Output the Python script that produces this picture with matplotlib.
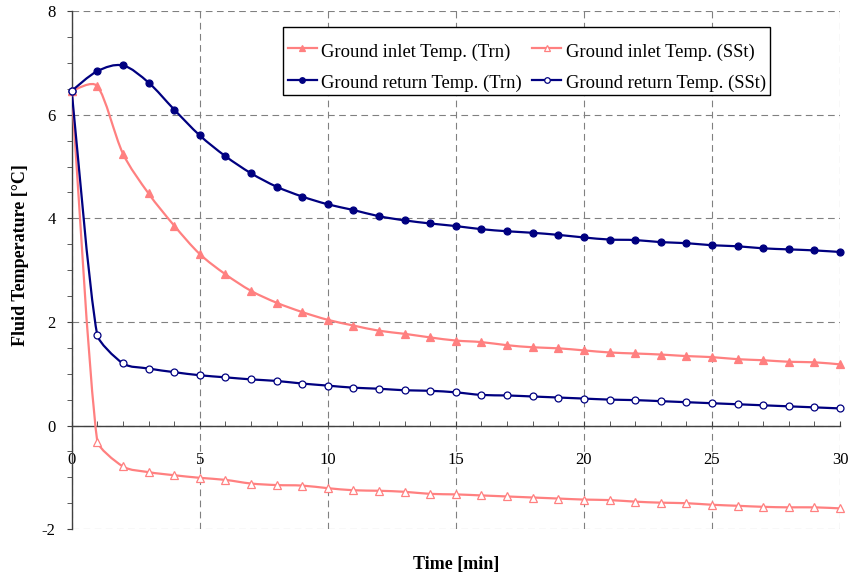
import numpy as np
import matplotlib
matplotlib.use('Agg')
import matplotlib.pyplot as plt
from matplotlib.path import Path
from matplotlib.patches import PathPatch, Rectangle
from matplotlib.lines import Line2D
from matplotlib.ticker import MultipleLocator

plt.rcParams['font.family'] = ['Liberation Serif', 'DejaVu Serif']
plt.rcParams['axes.unicode_minus'] = False

# time in minutes
time_min = list(range(0, 31))

inlet_trn = [6.46, 6.55, 5.25, 4.48, 3.86, 3.31, 2.92, 2.60, 2.37, 2.19, 2.04,
             1.93, 1.83, 1.77, 1.70, 1.64, 1.61, 1.55, 1.51, 1.49, 1.45,
             1.41, 1.39, 1.37, 1.34, 1.32, 1.28, 1.26, 1.23, 1.22, 1.18]
inlet_sst = [6.46, -0.31, -0.79, -0.90, -0.96, -1.01, -1.05, -1.12, -1.15, -1.16, -1.21,
             -1.25, -1.26, -1.28, -1.32, -1.33, -1.35, -1.37, -1.39, -1.41, -1.43,
             -1.44, -1.47, -1.49, -1.50, -1.53, -1.55, -1.57, -1.58, -1.58, -1.60]
return_trn = [6.46, 6.84, 6.95, 6.62, 6.10, 5.60, 5.20, 4.87, 4.61, 4.42, 4.27,
              4.16, 4.04, 3.96, 3.90, 3.85, 3.79, 3.75, 3.72, 3.68, 3.63,
              3.59, 3.58, 3.54, 3.52, 3.48, 3.46, 3.42, 3.40, 3.38, 3.35]
return_sst = [6.46, 1.74, 1.20, 1.10, 1.03, 0.97, 0.93, 0.89, 0.86, 0.81, 0.77,
              0.73, 0.71, 0.68, 0.67, 0.64, 0.59, 0.58, 0.56, 0.54, 0.52,
              0.50, 0.49, 0.47, 0.45, 0.43, 0.41, 0.39, 0.37, 0.35, 0.33]

labels = ['Ground inlet Temp. (Trn)', 'Ground inlet Temp. (SSt)',
          'Ground return Temp. (Trn)', 'Ground return Temp. (SSt)']

PINK = '#FF8080'
NAVY = '#000080'


def smooth_path(ax, x, y):
    # smoothed line like the spreadsheet one: bezier through every point,
    # tangents in screen space, handles kept short next to sharp turns
    p = ax.transData.transform(np.column_stack([x, y]).astype(float))
    n = len(p)
    tang = []
    span = []
    for i in range(n):
        d = p[min(i + 1, n - 1)] - p[max(i - 1, 0)]
        span.append(np.hypot(*d))
        tang.append(d / np.hypot(*d))
    verts = [p[0]]
    codes = [Path.MOVETO]
    for i in range(n - 1):
        chord = np.hypot(*(p[i + 1] - p[i]))
        h1 = min(span[i] / 6.0, chord / 3.0)
        h2 = min(span[i + 1] / 6.0, chord / 3.0)
        # very uneven neighbours -> almost a corner
        if span[i] / 6.0 > chord:
            h1 = chord / 6.0
        if span[i + 1] / 6.0 > chord:
            h2 = chord / 6.0
        verts += [p[i] + h1 * tang[i], p[i + 1] - h2 * tang[i + 1], p[i + 1]]
        codes += [Path.CURVE4] * 3
    verts = ax.transData.inverted().transform(np.array(verts))
    return Path(verts, codes)


fig = plt.figure(figsize=(8.52, 5.79), dpi=100)
ax = fig.add_axes([71.7 / 852, 1 - 529.1 / 579, 768.3 / 852, 518.0 / 579])
ax.set_xlim(0, 30)
ax.set_ylim(-2, 8)

series = [
    (inlet_trn, PINK, '^', PINK, 6),
    (inlet_sst, PINK, '^', 'white', 6),
    (return_trn, NAVY, 'o', NAVY, 5),
    (return_sst, NAVY, 'o', 'white', 5),
]

handles = []
for (vals, col, mk, face, ms), lab in zip(series, labels):
    ax.add_patch(PathPatch(smooth_path(ax, time_min, vals), fill=False,
                           edgecolor=col, lw=1.6, zorder=3))
    ax.plot(time_min, vals, ls='none', marker=mk, ms=ms, mfc=face,
            mec=col, mew=0.9, zorder=4, clip_on=False)
    handles.append(Line2D([], [], color=col, lw=1.6, marker=mk, ms=ms - 1,
                          mfc=face, mec=col, mew=0.9, label=lab))

ax.xaxis.set_major_locator(MultipleLocator(5))
ax.xaxis.set_minor_locator(MultipleLocator(1))
ax.yaxis.set_major_locator(MultipleLocator(2))
ax.yaxis.set_minor_locator(MultipleLocator(0.5))

ax.grid(True, which='major', color='#808080', ls=(0, (6, 4)), lw=0.8)
ax.set_axisbelow(True)

for s in ['top', 'right']:
    ax.spines[s].set_visible(False)
ax.spines['bottom'].set_position(('data', 0))
for s in ['left', 'bottom']:
    ax.spines[s].set_color('#404040')
    ax.spines[s].set_linewidth(1.0)

ax.tick_params(axis='x', which='both', direction='in', length=3.5,
               color='#404040', labelsize=12, pad=19)
ax.tick_params(axis='y', which='both', direction='out', length=3.5,
               color='#404040', labelsize=12, pad=8)

fig.text(456 / 852, 1 - 565 / 579, 'Time [min]', ha='center', va='center',
         fontsize=13, fontweight='bold')
fig.text(21 / 852, 1 - 255 / 579, 'Fluid Temperature [°C]', ha='center',
         va='center', rotation=90, fontsize=13, fontweight='bold')

# legend box drawn on its own so the padding can be uneven like the original
fig.add_artist(Rectangle((283 / 852, 1 - 95 / 579), 487 / 852, 67.7 / 579,
                         transform=fig.transFigure, facecolor='white',
                         edgecolor='black', lw=1.0, zorder=4))
order = [0, 2, 1, 3]
leg = fig.legend([handles[i] for i in order], [labels[i] for i in order],
                 ncol=2, loc='upper left',
                 bbox_to_anchor=(283 / 852, 1 - 35 / 579),
                 fontsize=13.4, frameon=False,
                 handlelength=1.55, handleheight=1.45,
                 handletextpad=0.25, columnspacing=0.55, labelspacing=0.5,
                 borderpad=0.25, borderaxespad=0)
leg.set_zorder(5)

fig.savefig('out.png', dpi=100)
